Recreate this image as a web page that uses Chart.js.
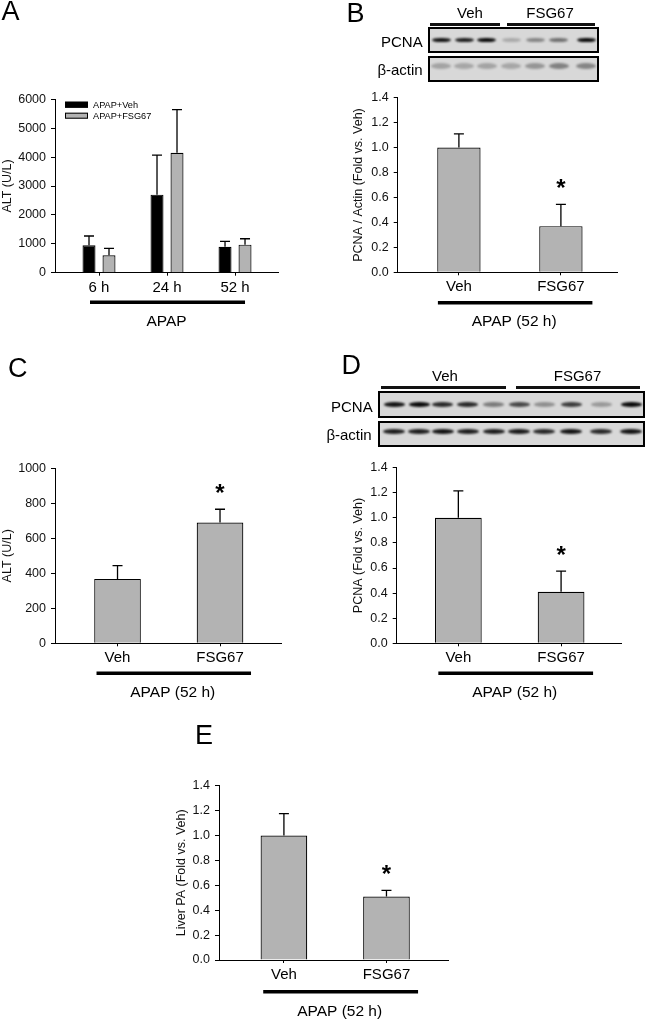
<!DOCTYPE html>
<html><head><meta charset="utf-8">
<script src="https://cdn.jsdelivr.net/npm/chart.js@4.4.0/dist/chart.umd.min.js"></script>
<style>
html,body{margin:0;padding:0;background:#fff;}
#page{position:relative;width:648px;height:1020px;overflow:hidden;font-family:'Liberation Sans',Arial,sans-serif;color:#000;background:#fff;}
canvas{position:absolute;left:0;top:0;}
.t{position:absolute;line-height:1;white-space:nowrap;}
.box{position:absolute;border:2.5px solid #000;background:#d8d8d8;box-sizing:border-box;overflow:hidden;}
.band{position:absolute;border-radius:50%;filter:blur(0.9px);}
.ln{position:absolute;height:3px;background:#111;}
</style></head>
<body><div id="page">
<canvas id="cA" width="648" height="1020"></canvas>
<canvas id="cB" width="648" height="1020"></canvas>
<canvas id="cC" width="648" height="1020"></canvas>
<canvas id="cD" width="648" height="1020"></canvas>
<canvas id="cE" width="648" height="1020"></canvas>
</div>
<script>
// ---------------- DATA ----------------
const timeLabels = ['6 h', '24 h', '52 h'];
const altVeh = [950, 2700, 900];
const altVehErr = [320, 1370, 185];
const altFsg = [600, 4150, 970];
const altFsgErr = [240, 1490, 205];

const groupLabels = ['Veh', 'FSG67'];
const pcnaActin = [1.0, 0.37];
const pcnaActinErr = [0.11, 0.175];
const altC = [368, 690];
const altCErr = [76, 76];
const pcnaD = [1.0, 0.41];
const pcnaDErr = [0.215, 0.165];
const liverPA = [1.0, 0.51];
const liverPAErr = [0.175, 0.05];
const significant = [false, true];

// western blot band intensities (decorative images)
const blotB_pcna = [0.95, 0.9, 1.0, 0.22, 0.4, 0.5, 1.0];
const blotB_actin = [0.26, 0.24, 0.26, 0.24, 0.32, 0.42, 0.4];
const blotD_pcna = [0.95, 1.0, 0.85, 0.85, 0.45, 0.7, 0.35, 0.75, 0.3, 1.0];
const blotD_actin = [0.9, 0.9, 0.95, 0.9, 0.9, 0.92, 0.85, 0.95, 0.85, 0.95];

// ---------------- PAGE DECOR (text labels, blots) ----------------
const page = document.getElementById('page');
function txt(s, x, y, size, align, extra) {
  const d = document.createElement('div');
  d.className = 't';
  d.textContent = s;
  d.style.fontSize = size + 'px';
  d.style.left = x + 'px';
  d.style.top = y + 'px';
  let tx = align === 'center' ? '-50%' : (align === 'right' ? '-100%' : '0');
  d.style.transform = 'translate(' + tx + ',-50%)';
  if (extra) Object.assign(d.style, extra);
  page.appendChild(d);
}
function letter(s, x, capTop) {
  const d = document.createElement('div');
  d.className = 't';
  d.textContent = s;
  d.style.fontSize = '27px';
  d.style.left = x + 'px';
  d.style.top = (capTop - 3.5) + 'px';
  page.appendChild(d);
}
function line(x1, x2, y) {
  const d = document.createElement('div');
  d.className = 'ln';
  d.style.left = x1 + 'px'; d.style.width = (x2 - x1) + 'px'; d.style.top = (y - 1.5) + 'px';
  page.appendChild(d);
}
function blot(l, t, r, b, lanes, vals, bandY, bw, bh, bg) {
  const box = document.createElement('div');
  box.className = 'box';
  box.style.left = l + 'px'; box.style.top = t + 'px';
  box.style.width = (r - l) + 'px'; box.style.height = (b - t) + 'px';
  if (bg) box.style.background = bg;
  page.appendChild(box);
  lanes.forEach((cx, i) => {
    const d = document.createElement('div');
    d.className = 'band';
    const a = vals[i];
    d.style.left = (cx - bw / 2 - l - 2.5) + 'px';
    d.style.top = (bandY - bh / 2 - t - 2.5) + 'px';
    d.style.width = bw + 'px';
    d.style.height = bh + 'px';
    d.style.background = 'rgba(10,10,10,' + a + ')';
    box.appendChild(d);
  });
}

letter('A', 1.5, 1.7);
letter('B', 346.5, 3.3);
letter('C', 8, 358);
letter('D', 341.5, 355);
letter('E', 195, 725);

// blot B
txt('Veh', 470, 12, 15, 'center');
txt('FSG67', 550, 12, 15, 'center');
line(430, 500, 24);
line(507, 595, 24);
txt('PCNA', 422.7, 41, 15, 'right');
txt('\u03B2-actin', 422.7, 69, 15, 'right');
const lanesB = [441.7, 465, 487.3, 511.7, 536, 559.3, 586.7];
blot(427.7, 27.3, 599.3, 52.7, lanesB, blotB_pcna, 40.7, 19, 4.5);
blot(427.7, 56, 599.3, 81.7, lanesB, blotB_actin, 66, 20, 6);

// blot D
txt('Veh', 445, 375, 15, 'center');
txt('FSG67', 577.5, 375, 15, 'center');
line(381, 506, 387.3);
line(515.7, 640, 387.3);
txt('PCNA', 372.7, 405.5, 15, 'right');
txt('\u03B2-actin', 371.7, 434, 15, 'right');
const lanesD = [395, 420, 443.3, 468.3, 494.3, 520, 545, 571.7, 601.7, 631.7];
blot(378.3, 390.7, 645, 418.3, lanesD, blotD_pcna, 405, 21, 4.5);
blot(378.3, 420.7, 645, 447.3, lanesD, blotD_actin, 432, 22, 5);

// ---------------- CHARTS ----------------
Chart.defaults.font.family = "'Liberation Sans', Arial, sans-serif";
Chart.defaults.color = '#000';

const annot = {
  id: 'annot',
  afterDatasetsDraw(chart, args, opts) {
    const ctx = chart.ctx, ys = chart.scales.y;
    ctx.save();
    chart.data.datasets.forEach((ds, di) => {
      const meta = chart.getDatasetMeta(di);
      meta.data.forEach((el, i) => {
        const v = ds.data[i].y;
        const yt = ys.getPixelForValue(v + ds.errors[i]);
        ctx.strokeStyle = '#000';
        ctx.lineWidth = 1.3;
        ctx.beginPath();
        ctx.moveTo(el.x, el.y);
        ctx.lineTo(el.x, yt);
        ctx.moveTo(el.x - opts.cap, yt);
        ctx.lineTo(el.x + opts.cap, yt);
        ctx.stroke();
        if (ds.stars && ds.stars[i]) {
          ctx.fillStyle = '#000';
          ctx.font = "bold 24px 'Liberation Sans', Arial, sans-serif";
          ctx.textAlign = 'center';
          ctx.textBaseline = 'alphabetic';
          ctx.fillText('*', el.x, yt - 22 + 14);
        }
      });
    });
    ctx.restore();
  },
  afterDraw(chart, args, opts) {
    const ctx = chart.ctx, xs = chart.scales.x, ca = chart.chartArea;
    const n = chart.data.labels.length;
    ctx.save();
    const x1 = xs.getPixelForValue(0) + opts.lineFrom;
    const x2 = xs.getPixelForValue(n - 1) + opts.lineTo;
    const yb = ca.bottom + opts.lineGap;
    ctx.strokeStyle = '#000';
    ctx.lineWidth = 3.4;
    ctx.beginPath(); ctx.moveTo(x1, yb); ctx.lineTo(x2, yb); ctx.stroke();
    ctx.fillStyle = '#000';
    ctx.font = "15.5px 'Liberation Sans', Arial, sans-serif";
    ctx.textAlign = 'center';
    ctx.textBaseline = 'middle';
    ctx.fillText(opts.text, (x1 + x2) / 2 - 1, ca.bottom + opts.textGap);
    if (opts.legend) {
      const L = opts.legend;
      ctx.font = "9.2px 'Liberation Sans', Arial, sans-serif";
      ctx.textAlign = 'left';
      chart.data.datasets.forEach((ds, i) => {
        const yy = ca.top + L.y + i * L.dy;
        const xx = ca.left + L.x;
        ctx.fillStyle = ds.backgroundColor;
        ctx.fillRect(xx, yy, 23, 6);
        ctx.lineWidth = 1;
        ctx.strokeStyle = '#000';
        ctx.strokeRect(xx + 0.5, yy + 0.5, 22, 5);
        ctx.fillStyle = '#000';
        ctx.fillText(ds.label, xx + 28, yy + 3.5);
      });
    }
    ctx.restore();
  }
};

function makeChart(id, p) {
  const datasets = p.series.map(s => ({
    label: s.label,
    data: p.labels.map((_, i) => ({ x: i, y: s.values[i] })),
    errors: s.errors,
    stars: s.stars,
    backgroundColor: s.color,
    borderColor: '#000',
    borderWidth: 1.2,
    borderSkipped: 'bottom',
    categoryPercentage: p.catPct,
    barPercentage: p.barPct
  }));
  return new Chart(document.getElementById(id), {
    type: 'bar',
    data: { labels: p.labels, datasets },
    options: {
      responsive: false,
      animation: false,
      devicePixelRatio: 1,
      events: [],
      layout: { padding: { left: p.padL, right: 648 - p.right, top: p.top, bottom: 1020 - p.bottom - 30 } },
      plugins: {
        legend: { display: false },
        tooltip: { enabled: false },
        annot: { cap: 5, lineFrom: p.lineFrom, lineTo: p.lineTo, lineGap: p.lineGap, text: p.under, textGap: p.textGap, legend: p.legend }
      },
      scales: {
        x: {
          type: 'linear', min: p.xmin, max: p.xmax, offset: false,
          afterBuildTicks(s) { s.ticks = p.labels.map((_, i) => ({ value: i })); },
          afterFit(s) { s.height = 30; },
          ticks: { callback: v => p.labels[v], font: { size: 15 }, color: '#000', padding: 3, autoSkip: false, maxRotation: 0 },
          grid: { drawOnChartArea: false, drawTicks: true, tickLength: 3, color: '#000', offset: false },
          border: { color: '#000', width: 1 }
        },
        y: {
          min: 0, max: p.ymax,
          afterFit(s) { s.width = p.axisW; },
          ticks: { stepSize: p.step, font: { size: 12.5 }, color: '#111', padding: 5, callback: v => p.fmt(v) },
          grid: { drawOnChartArea: false, drawTicks: true, tickLength: 4, color: '#000' },
          border: { color: '#000', width: 1 },
          title: { display: true, text: p.ytitle, font: { size: 12.5 }, color: '#111', padding: 0 }
        }
      }
    },
    plugins: [annot]
  });
}

const grey = '#b3b3b3';
const fmt0 = v => String(Math.round(v));
const fmt1 = v => v.toFixed(1);

makeChart('cA', {
  labels: timeLabels,
  series: [
    { label: 'APAP+Veh', values: altVeh, errors: altVehErr, color: '#000000' },
    { label: 'APAP+FSG67', values: altFsg, errors: altFsgErr, color: grey }
  ],
  catPct: 0.588, barPct: 0.65,
  padL: 0, axisW: 55, right: 278, top: 99.3, bottom: 272.7,
  xmin: -0.647, xmax: 2.632, ymax: 6000, step: 1000, fmt: fmt0,
  ytitle: 'ALT (U/L)', under: 'APAP', lineFrom: -9, lineTo: 10, lineGap: 29.6, textGap: 49.5,
  legend: { x: 10, y: 2.4, dy: 11 }
});

makeChart('cB', {
  labels: groupLabels,
  series: [{ label: 'PCNA', values: pcnaActin, errors: pcnaActinErr, stars: significant, color: grey }],
  catPct: 1, barPct: 0.425,
  padL: 350.8, axisW: 46.9, right: 617, top: 97.7, bottom: 272.3,
  xmin: -0.6, xmax: 1.55, ymax: 1.4, step: 0.2, fmt: fmt1,
  ytitle: 'PCNA / Actin (Fold vs. Veh)', under: 'APAP (52 h)', lineFrom: -21, lineTo: 31.5, lineGap: 30.4, textGap: 49.5
});

makeChart('cC', {
  labels: groupLabels,
  series: [{ label: 'ALT', values: altC, errors: altCErr, stars: significant, color: grey }],
  catPct: 1, barPct: 0.455,
  padL: 0, axisW: 55, right: 281, top: 468.3, bottom: 643.3,
  xmin: -0.61, xmax: 1.595, ymax: 1000, step: 200, fmt: fmt0,
  ytitle: 'ALT (U/L)', under: 'APAP (52 h)', lineFrom: -21, lineTo: 31, lineGap: 30, textGap: 49
});

makeChart('cD', {
  labels: groupLabels,
  series: [{ label: 'PCNA', values: pcnaD, errors: pcnaDErr, stars: significant, color: grey }],
  catPct: 1, barPct: 0.455,
  padL: 350.8, axisW: 45.9, right: 621.7, top: 467.7, bottom: 643.3,
  xmin: -0.6, xmax: 1.59, ymax: 1.4, step: 0.2, fmt: fmt1,
  ytitle: 'PCNA (Fold vs. Veh)', under: 'APAP (52 h)', lineFrom: -20, lineTo: 32, lineGap: 30, textGap: 49
});

makeChart('cE', {
  labels: groupLabels,
  series: [{ label: 'Liver PA', values: liverPA, errors: liverPAErr, stars: significant, color: grey }],
  catPct: 1, barPct: 0.455,
  padL: 174.2, axisW: 44.8, right: 448, top: 785.7, bottom: 960,
  xmin: -0.633, xmax: 1.6, ymax: 1.4, step: 0.2, fmt: fmt1,
  ytitle: 'Liver PA (Fold vs. Veh)', under: 'APAP (52 h)', lineFrom: -20.7, lineTo: 31.6, lineGap: 31.7, textGap: 51.7
});
</script>
</body></html>
